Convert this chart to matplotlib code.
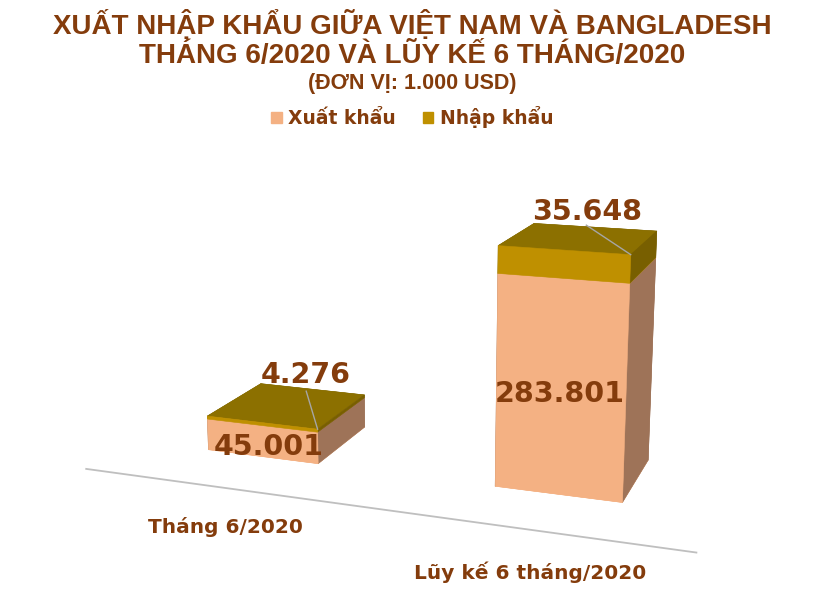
import matplotlib
matplotlib.use('Agg')
import matplotlib.pyplot as plt
import numpy as np
from matplotlib.patches import Patch
from mpl_toolkits.mplot3d import proj3d

# so lieu (don vi: 1.000 USD)
categories = ['Tháng 6/2020', 'Lũy kế 6 tháng/2020']
xuat_khau = [45001, 283801]
nhap_khau = [4276, 35648]
series_names = ['Xuất khẩu', 'Nhập khẩu']

title_lines = ['XUẤT NHẬP KHẨU GIỮA VIỆT NAM VÀ BANGLADESH',
               'THÁNG 6/2020 VÀ LŨY KẾ 6 THÁNG/2020']
unit_line = '(ĐƠN VỊ: 1.000 USD)'

BROWN = '#843C0C'
XK_FRONT, XK_SIDE = '#F4B183', '#9E7358'
NK_FRONT, NK_TOP, NK_SIDE = '#BF9000', '#8C7000', '#785F00'

# label placement (offsets from the bars)
xk_dx = [0.025, 0.0]
nk_dx = [0.07, 0.02]
nk_dz = [48000, 35000]
cat_dx = [0.015, 0.0]


def fmt(v):
    # dau cham ngan cach hang nghin
    return f'{v:,}'.replace(',', '.')


W, H = 825, 590
fig = plt.figure(figsize=(W / 100, H / 100), dpi=100)

# square 3d axes, principal point of the camera at (cx, cy) px
S = 570
cx, cy = 419, 287
k = 0.095 / 0.185
ax = fig.add_axes([(cx - k * S) / W, (H - cy - k * S) / H, S / W, S / H],
                  projection='3d')
ax.set_axis_off()
ax.computed_zorder = False

# perspective camera
f_px = 1416
elev, azim = 12.7, -70
e = f_px * 0.185 / S
ax.set_proj_type('persp', focal_length=e)
ax.view_init(elev=elev, azim=azim)

# bars: xuat khau at the bottom, nhap khau stacked on top
n = len(categories)
bw = 0.4
xs = np.arange(n) - bw / 2
x_all = np.concatenate([xs, xs])
y_all = np.zeros(2 * n)
z_all = np.concatenate([np.zeros(n), xuat_khau])
dz_all = np.concatenate([xuat_khau, nhap_khau])
# faces: -z, +z, -y (front), +y, -x, +x (side)
xk_faces = [XK_FRONT, XK_FRONT, XK_FRONT, XK_SIDE, XK_SIDE, XK_SIDE]
nk_faces = [NK_FRONT, NK_TOP, NK_FRONT, NK_SIDE, NK_SIDE, NK_SIDE]
colors = xk_faces * n + nk_faces * n
bars = ax.bar3d(x_all, y_all, z_all, bw, bw, dz_all, color=colors,
                shade=False, edgecolor=colors, linewidth=0.4)
bars.set_zorder(1)
bars.set_clip_on(False)

# floor line
floor_y = -0.3
ax.plot([-0.48, n - 0.53], [floor_y, floor_y], [0, 0], color='#BFBFBF',
        lw=1.3, zorder=2, clip_on=False)

# leader lines for nhap khau labels
for i in range(n):
    top = xuat_khau[i] + nhap_khau[i]
    ax.plot([i + nk_dx[i], i + bw / 2], [bw / 2, 0],
            [top + nk_dz[i] * 0.5, top], color='#A6A6A6', lw=1, zorder=5,
            clip_on=False)

# scale (box units per data unit) and camera eye in data units
sx, sz = 0.637, 1.517e-6
eye = np.array([1.998, -3.983, 659200])
scale = np.array([sx, sx, sz])
el, az = np.deg2rad(elev), np.deg2rad(azim)
ps = np.array([np.cos(el) * np.cos(az), np.cos(el) * np.sin(az), np.sin(el)])
center = (eye * scale - 10 * e * ps) / scale
half = np.array([1.0, 1.0, 237600])
ax.set_xlim(center[0] - half[0], center[0] + half[0])
ax.set_ylim(center[1] - half[1], center[1] + half[1])
ax.set_zlim(center[2] - half[2], center[2] + half[2])
aspect = 2 * half * scale
ax.set_box_aspect(aspect, zoom=np.linalg.norm(aspect) / (1.8294640721620434 * 25 / 24))

M = ax.get_proj()


def put(x, y, z, s, **kw):
    px, py, _ = proj3d.proj_transform(x, y, z, M)
    ax.text2D(px, py, s, transform=ax.transData, ha='center', va='center',
              family='DejaVu Sans', weight='bold', color=BROWN, zorder=6, **kw)


for i in range(n):
    top = xuat_khau[i] + nhap_khau[i]
    put(i + xk_dx[i], 0, xuat_khau[i] / 2 - 8000, fmt(xuat_khau[i]),
        fontsize=20.5)
    put(i + nk_dx[i], bw / 2, top + nk_dz[i], fmt(nhap_khau[i]), fontsize=20.5)
    put(i + cat_dx[i], floor_y, -55000, categories[i], fontsize=14.5)

# tieu de
tfont = dict(family='Liberation Sans', weight='bold', color=BROWN,
             ha='center', va='center')
fig.text(0.5, 1 - 25 / H, title_lines[0], fontsize=20, **tfont)
fig.text(0.5, 1 - 56 / H, title_lines[1], fontsize=20, **tfont)
fig.text(0.5, 1 - 83 / H, unit_line, fontsize=15.5, **tfont)

handles = [Patch(color=XK_FRONT), Patch(color=NK_FRONT)]
fig.legend(handles, series_names, loc='center', bbox_to_anchor=(0.5, 1 - 117 / H),
           ncol=2, frameon=False, handlelength=0.55, handleheight=0.55,
           handletextpad=0.35, columnspacing=1.45, labelcolor=BROWN,
           prop=dict(family='DejaVu Sans', weight='bold', size=13.5))

fig.savefig('out.png', dpi=100)
